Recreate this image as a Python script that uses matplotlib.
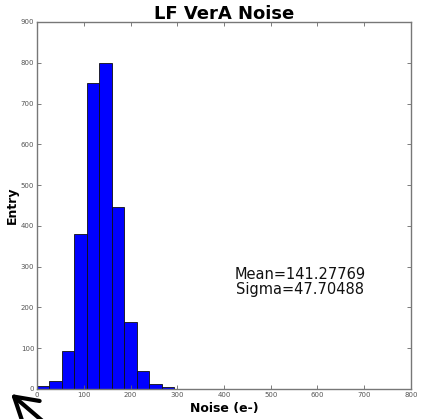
import numpy as np
import matplotlib
matplotlib.use("Agg")
import matplotlib.pyplot as plt

# Histogram of noise values: 30 equal bins spanning 0..800 e-
bin_lo, bin_hi, n_bins = 0.0, 800.0, 30
counts = [7, 20, 92, 380, 750, 800, 447, 165, 44, 13,
          4, 0, 0, 1, 0, 0, 0, 1, 0, 0,
          0, 0, 1, 0, 0, 0, 0, 0, 0, 0]
mean_val = 141.27769
sigma_val = 47.70488

title = "LF VerA Noise"
xlabel = "Noise (e-)"
ylabel = "Entry"
xticks = [0, 100, 200, 300, 400, 500, 600, 700, 800]
yticks = [0, 100, 200, 300, 400, 500, 600, 700, 800, 900]

edges = np.linspace(bin_lo, bin_hi, n_bins + 1)

fig = plt.figure(figsize=(4.23, 4.19), dpi=100)
ax = fig.add_axes([0.0875, 0.0716, 0.8841, 0.8759])

ax.hist(edges[:-1], bins=edges, weights=counts, color="#0000ff",
        edgecolor="#111111", linewidth=0.6)

ax.set_xlim(0, 800)
ax.set_ylim(0, 900)
ax.set_xticks(xticks)
ax.set_yticks(yticks)
ax.tick_params(direction="in", top=True, right=True, length=3, width=0.6,
               color="#666666", labelsize=5, labelcolor="#555555", pad=2)
for s in ax.spines.values():
    s.set_color("#777777")
    s.set_linewidth(1.0)

ax.set_title(title, fontsize=13, fontweight="bold", pad=2)
ax.set_xlabel(xlabel, fontsize=9, fontweight="bold", labelpad=3)
ax.set_ylabel(ylabel, fontsize=9, fontweight="bold", labelpad=1)

ax.text(563, 262, "Mean=%.5f\nSigma=%.5f" % (mean_val, sigma_val),
        ha="center", va="center", fontsize=10.5, color="#111111",
        linespacing=1.0)

# pointer arrow in the lower-left corner
fig.patches.append(matplotlib.patches.FancyArrowPatch(
    (46 / 423, 1 - 424 / 419), (11 / 423, 1 - 394 / 419),
    transform=fig.transFigure, arrowstyle="->,head_length=5,head_width=3",
    mutation_scale=3.2, linewidth=3.0, color="black", clip_on=False,
    shrinkA=0, shrinkB=0))

fig.savefig("out.png", dpi=100)
